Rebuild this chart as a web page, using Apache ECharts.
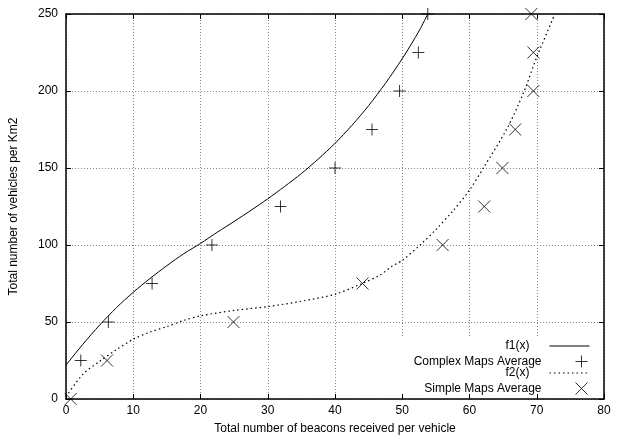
<!DOCTYPE html>
<html lang="en">
<head>
  <meta charset="UTF-8">
  <title>Vehicles vs beacons</title>
  <script src="https://cdn.jsdelivr.net/npm/echarts@6/dist/echarts.min.js"></script>
  <style>
    html, body { margin: 0; padding: 0; background: #fff; }
  </style>
</head>
<body>
  <div id="main" style="width: 620px; height: 435px;"></div>
  <script type="text/javascript">
    // fitted curves
    var f1X = [0, 2.5, 5, 7.5, 10, 12.5, 15, 17.5, 20, 22.5, 25, 27.5, 30, 32.5, 35, 37.5, 40, 42.5, 45, 47.5, 50, 52.5, 53.8];
    var f1Y = [22, 35.5, 48, 59.3, 69.3, 78.3, 86.6, 94.3, 101, 108.3, 115.3, 122.5, 130, 138, 146.4, 155.8, 166, 177.6, 190.5, 205, 221, 239, 250];
    var f2X = [0, 2.5, 5, 7.5, 10, 12.5, 15, 17.5, 20, 25, 30, 35, 40, 44, 46.7, 48.4, 50, 52.9, 55, 57.5, 60, 62.2, 65.5, 68, 70, 72.7];
    var f2Y = [1.5, 16, 24.5, 32, 38.8, 43.5, 47, 51, 54, 57.5, 60, 63.5, 68, 75, 80.5, 86, 90, 101, 110, 122, 135.7, 151, 175, 198.5, 222, 250];

    // measured averages
    var complexX = [2.2, 6.3, 12.8, 21.7, 31.9, 40.0, 45.5, 49.6, 52.4, 53.8];
    var complexY = [25, 50, 75, 100, 125, 150, 175, 200, 225, 250];
    var simpleX = [0.7, 6.1, 24.9, 44.1, 56.0, 62.2, 64.9, 66.8, 69.5, 69.5, 69.2];
    var simpleY = [0, 25, 50, 75, 100, 125, 150, 175, 200, 225, 250];

    var xTicks = { min: 0, max: 80, interval: 10 };
    var yTicks = { min: 0, max: 250, interval: 50 };

    function pairs(xs, ys) {
      return xs.map(function (x, i) { return [x, ys[i]]; });
    }

    var font = 'Liberation Sans, Arial, Helvetica, sans-serif';
    var plusPath = 'path://M0,5L10,5M5,0L5,10';
    var crossPath = 'path://M0,0L10,10M10,0L0,10';

    var myChart = echarts.init(document.getElementById('main'));

    function axisCommon(extra) {
      var a = {
        type: 'value',
        axisLine: { show: true, onZero: false, lineStyle: { color: '#000', width: 1.5 } },
        axisTick: { show: true, inside: true, length: 5, lineStyle: { color: '#000' } },
        axisLabel: { color: '#000', fontSize: 12, fontFamily: font },
        splitLine: { show: false }
      };
      for (var k in extra) a[k] = extra[k];
      return a;
    }

    function legendRow(name, top, isLine) {
      var l = {
        data: [name],
        right: 30,
        top: top,
        padding: 0,
        align: 'right',
        itemWidth: 40,
        itemHeight: 12,
        itemGap: 0,
        selectedMode: false,
        textStyle: { color: '#000', fontSize: 12, fontFamily: font, padding: [0, 15, 0, 0] }
      };
      // line entries show only the line sample, no marker
      if (isLine) {
        l.itemStyle = { opacity: 0 };
        l.lineStyle = { width: 1 };
      } else {
        l.itemStyle = { color: 'none', borderColor: '#000', borderWidth: 1 };
      }
      return l;
    }

    var option = {
      animation: false,
      backgroundColor: '#fff',
      grid: { left: 66, right: 16, top: 14, bottom: 36, outerBoundsMode: 'none', containLabel: false },
      xAxis: [
        axisCommon({
          position: 'bottom',
          min: xTicks.min, max: xTicks.max, interval: xTicks.interval,
          name: 'Total number of beacons received per vehicle',
          nameLocation: 'middle',
          nameGap: 24,
          nameTextStyle: { color: '#000', fontSize: 12, fontFamily: font },
          axisLabel: { color: '#000', fontSize: 12, fontFamily: font, margin: 6 },
          splitLine: { show: true, lineStyle: { color: '#888', type: [1, 2], width: 1 } }
        }),
        axisCommon({
          position: 'top',
          min: xTicks.min, max: xTicks.max, interval: xTicks.interval,
          axisLabel: { show: false }
        })
      ],
      yAxis: [
        axisCommon({
          position: 'left',
          min: yTicks.min, max: yTicks.max, interval: yTicks.interval,
          name: 'Total number of vehicles per Km2',
          nameLocation: 'middle',
          nameGap: 46,
          nameTextStyle: { color: '#000', fontSize: 12, fontFamily: font },
          axisLabel: { color: '#000', fontSize: 12, fontFamily: font, margin: 8 },
          splitLine: { show: true, lineStyle: { color: '#888', type: [1, 2], width: 1 } }
        }),
        axisCommon({
          position: 'right',
          min: yTicks.min, max: yTicks.max, interval: yTicks.interval,
          axisLabel: { show: false }
        })
      ],
      // white patch under the key, the grid is cut there in the original
      graphic: [{
        type: 'rect',
        z: 1,
        shape: { x: 396, y: 337, width: 206, height: 56 },
        style: { fill: '#fff' }
      }],
      legend: [
        legendRow('f1(x)', 340, true),
        legendRow('Complex Maps Average', 353, false),
        legendRow('f2(x)', 367, true),
        legendRow('Simple Maps Average', 380, false)
      ],
      series: [
        {
          name: 'f1(x)',
          type: 'line',
          data: pairs(f1X, f1Y),
          smooth: 0.3,
          symbol: 'none',
          clip: true,
          z: 3,
          lineStyle: { color: '#000', width: 1 },
          itemStyle: { color: '#000' }
        },
        {
          name: 'Complex Maps Average',
          type: 'scatter',
          data: pairs(complexX, complexY),
          symbol: plusPath,
          symbolSize: 12,
          z: 4,
          itemStyle: { color: 'none', borderColor: '#000', borderWidth: 1 }
        },
        {
          name: 'f2(x)',
          type: 'line',
          data: pairs(f2X, f2Y),
          smooth: 0.3,
          symbol: 'none',
          clip: true,
          z: 3,
          lineStyle: { color: '#000', width: 1.2, type: [1.5, 3] },
          itemStyle: { color: '#000' }
        },
        {
          name: 'Simple Maps Average',
          type: 'scatter',
          data: pairs(simpleX, simpleY),
          symbol: crossPath,
          symbolSize: 12,
          z: 4,
          itemStyle: { color: 'none', borderColor: '#000', borderWidth: 1 }
        }
      ]
    };
    myChart.setOption(option);
  </script>
</body>
</html>
